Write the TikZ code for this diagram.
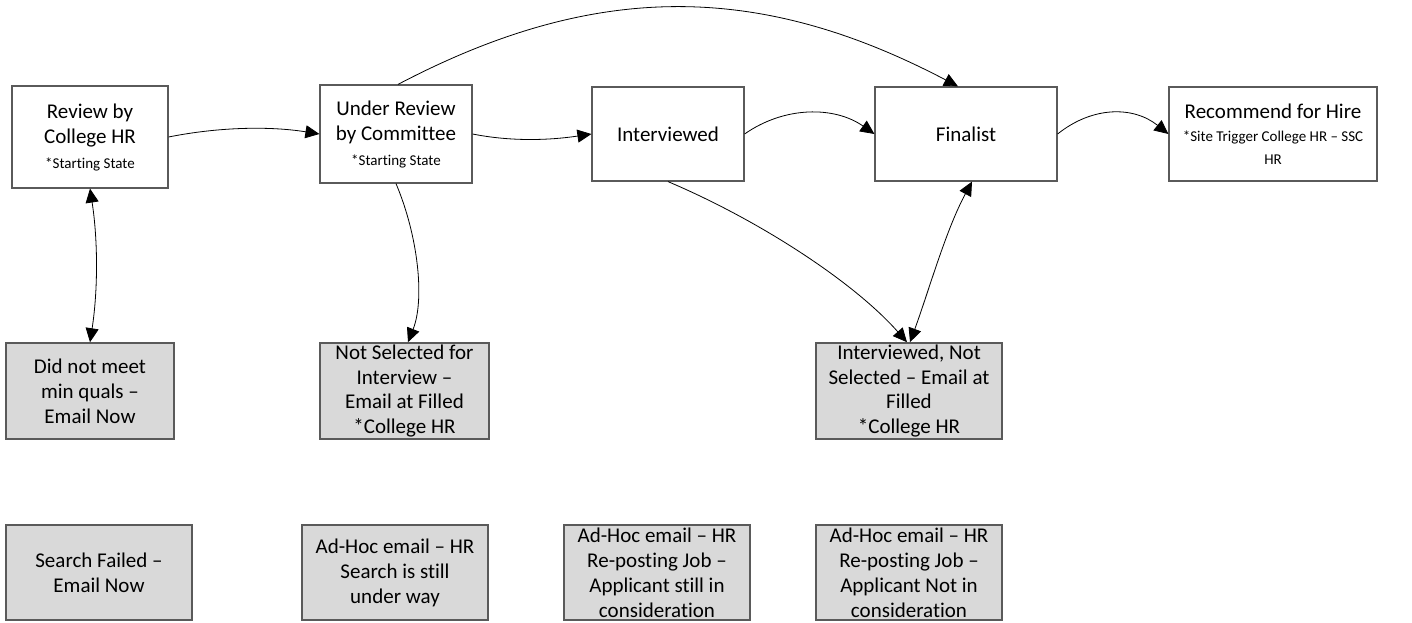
\documentclass[tikz,border=0pt]{standalone}
\usepackage{fontspec}
\setmainfont{Carlito}[RawFeature={-liga}]
\usetikzlibrary{arrows.meta}
\definecolor{boxline}{RGB}{90,90,90}
\definecolor{boxfill}{RGB}{217,217,217}
\begin{document}
\begin{tikzpicture}[x=1pt,y=-1pt,
  state/.style={draw=boxline, line width=1.2pt, fill=white, inner sep=0pt, align=center,
    font=\fontsize{21}{25}\selectfont, minimum height=94pt},
  msg/.style={draw=boxline, line width=1.6pt, fill=boxfill, inner sep=0pt, align=center,
    font=\fontsize{21}{25}\selectfont, minimum width=186pt, minimum height=95pt},
  conn/.style={line width=0.8pt, -{Triangle[length=14pt,width=13pt]}},
  bconn/.style={line width=0.8pt, {Triangle[length=14pt,width=13pt]}-{Triangle[length=14pt,width=13pt]}}]
\useasboundingbox (0,0) rectangle (1412,623);
\newcommand{\notetext}[1]{{\fontsize{15}{25}\selectfont #1}}

% top row
\node[state, minimum width=156pt, minimum height=102pt] (b1) at (90,137)
  {Review by\\College HR\\\notetext{*Starting State}};
\node[state, minimum width=152pt, minimum height=98pt] (b2) at (396,134)
  {Under Review\\by Committee\\\notetext{*Starting State}};
\node[state, minimum width=152pt] (b3) at (668,134) {Interviewed};
\node[state, minimum width=182pt] (b4) at (966,134) {Finalist};
\node[state, minimum width=208pt, font=\fontsize{21}{23}\selectfont] (b5) at (1273,134)
  {Recommend for Hire\\\notetext{*Site Trigger College HR – SSC}\\\notetext{HR}};

% middle row
\node[msg, minimum width=168pt, minimum height=96pt] (g1) at (90,391)
  {Did not meet\\min quals –\\Email Now};
\node[msg, minimum width=169pt, minimum height=96pt, font=\fontsize{21}{24.5}\selectfont] (g2) at (404.5,391)
  {Not Selected for\\Interview –\\Email at Filled\\*College HR};
\node[msg, minimum height=96pt, font=\fontsize{21}{24.5}\selectfont] (g3) at (909,391)
  {Interviewed, Not\\Selected – Email at\\Filled\\*College HR};

% bottom row
\node[msg] (g4) at (99,572.5) {Search Failed –\\Email Now};
\node[msg] (g5) at (395,572.5) {Ad-Hoc email – HR\\Search is still\\under way};
\node[msg] (g6) at (657,572.5) {Ad-Hoc email – HR\\Re-posting Job –\\Applicant still in\\consideration};
\node[msg] (g7) at (909,572.5) {Ad-Hoc email – HR\\Re-posting Job –\\Applicant Not in\\consideration};

% connectors
\draw[bconn] (b1.south) .. controls +(8,52) and +(8,-52) .. (g1.north);
\draw[conn] (b1.east) .. controls +(50,-10) and +(-50,-8) .. (b2.west);
\draw[conn] (b2.east) .. controls +(40,8) and +(-40,6) .. (b3.west);
\draw[conn] (b3.east) .. controls +(40,-28) and +(-40,-28) .. (b4.west);
\draw[conn] ([xshift=2pt]b2.north) .. controls +(198,-104) and +(-198,-104) .. ([xshift=-8pt]b4.north);
\draw[conn] (b4.east) .. controls +(35,-28) and +(-35,-28) .. (b5.west);
\draw[conn] (b2.south) .. controls +(22,52) and +(17,-43) .. ([xshift=3.5pt]g2.north);
\draw[conn] (b3.south) .. controls +(92,39) and +(-53,-60) .. ([xshift=-2pt]g3.north);
\draw[bconn] ([xshift=6pt]b4.south) .. controls +(-26,48) and +(19,-52) .. ([xshift=1pt]g3.north);
\end{tikzpicture}
\end{document}
